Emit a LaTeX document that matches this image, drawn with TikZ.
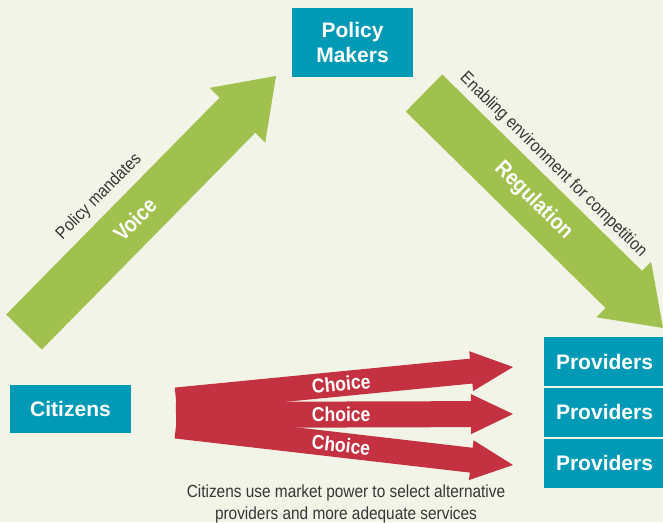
\documentclass[tikz,border=0pt]{standalone}
\usepackage{fontspec}
\setmainfont{Liberation Sans}
\newfontfamily\narrowfont[FakeStretch=0.88]{Liberation Sans}
\usetikzlibrary{calc,positioning}
\definecolor{paper}{RGB}{241,244,231}
\definecolor{boxteal}{RGB}{0,154,182}
\definecolor{leafgreen}{RGB}{161,193,78}
\definecolor{choicered}{RGB}{196,50,66}
\definecolor{notegray}{RGB}{55,55,55}
% fat arrow: colour, tail, tip, half shaft, half head, head length
\newcommand\fatarrow[6]{%
  \coordinate (neck) at ($(#3)!#6!(#2)$);
  \fill[#1] ($(#2)!#4!-90:(#3)$) -- ($(neck)!#4!-90:(#3)$) -- ($(neck)!#5!-90:(#3)$)
    -- (#3) -- ($(neck)!#5!90:(#3)$) -- ($(neck)!#4!90:(#3)$) -- ($(#2)!#4!90:(#3)$) -- cycle;
}
\begin{document}
\begin{tikzpicture}[x=1pt, y=-1pt, node distance=1.5pt]
\tikzstyle{actor}=[fill=boxteal,text=white,font=\bfseries\fontsize{21}{25}\selectfont,align=center,inner sep=0pt,minimum width=121pt]
\tikzstyle{onarrow}=[sloped,text=white,font=\narrowfont\bfseries\fontsize{22}{26}\selectfont,inner sep=0pt]
\tikzstyle{choice}=[sloped,text=white,font=\narrowfont\bfseries\fontsize{20}{24}\selectfont,inner sep=0pt]
\tikzstyle{note}=[text=notegray,font=\narrowfont\fontsize{17.5}{22}\selectfont,inner sep=0pt]
\fill[paper] (0,0) rectangle (663,522);
\useasboundingbox (0,0) rectangle (663,522);
%
\node[actor,minimum height=69pt]  (PM)  at (352.5,42.5)    {Policy\\Makers};
\node[actor,minimum height=48pt]  (C)   at (70.5,409)      {Citizens};
\node[actor,minimum height=49pt]  (P1)  at (604.5,361.5)   {Providers};
\node[actor,minimum height=49pt]  (P2)  [below=of P1]      {Providers};
\node[actor,minimum height=49pt]  (P3)  [below=of P2]      {Providers};
%
\coordinate (vtail) at (24,332);
\coordinate (vtip)  at (276,76);
\coordinate (rtail) at (424,93);
\coordinate (rtip)  at (663,328);
\coordinate (ctail1) at (176,400);
\coordinate (ctip1)  at (513,367);
\coordinate (ctail2) at (176,415);
\coordinate (ctip2)  at (513,414);
\coordinate (ctail3) at (176,426);
\coordinate (ctip3)  at (513,465);
%
\fatarrow{leafgreen}{vtail}{vtip}{25pt}{39pt}{55pt}
\fatarrow{leafgreen}{rtail}{rtip}{26pt}{39pt}{55pt}
\fatarrow{choicered}{ctail1}{ctip1}{12.5pt}{20pt}{42pt}
\fatarrow{choicered}{ctail2}{ctip2}{13pt}{20pt}{42pt}
\fatarrow{choicered}{ctail3}{ctip3}{12.5pt}{20pt}{42pt}
%
\path (vtail) -- (vtip)
      node[onarrow,pos=.44]            {Voice}
      node[note,sloped,pos=.415,above=33pt] {Policy mandates};
\path (rtail) -- (rtip)
      node[onarrow,pos=.458]           {Regulation}
      node[note,sloped,pos=.425,above=31pt] {Enabling environment for competition};
\path (ctail1) -- (ctip1) node[choice,pos=.49] {Choice};
\path (ctail2) -- (ctip2) node[choice,pos=.49] {Choice};
\path (ctail3) -- (ctip3) node[choice,pos=.49] {Choice};
%
\node[note,align=center,anchor=north] (market) at (346,485)
      {Citizens use market power to select alternative\\providers and more adequate services};
\end{tikzpicture}
\end{document}
